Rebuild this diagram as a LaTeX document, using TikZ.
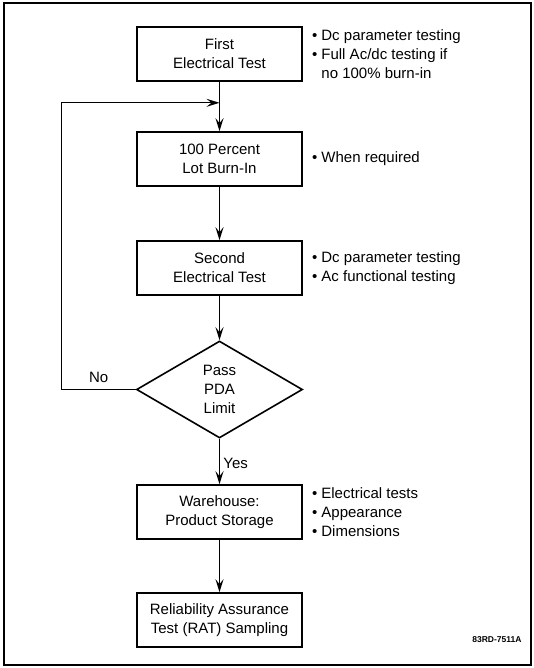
\documentclass[tikz,border=0pt]{standalone}
\usepackage{fontspec}
\setmainfont{Liberation Sans}
\usetikzlibrary{positioning, shapes.geometric, arrows.meta}

\begin{document}
\begin{tikzpicture}[x=1pt, y=-1pt,
		box/.style={draw, line width=1.6pt, minimum width=165pt, minimum height=54pt,
			align=center, inner sep=2pt, font=\fontsize{15}{19}\selectfont},
		decision/.style={draw, diamond, line width=1.6pt, minimum width=166pt, minimum height=97pt,
			aspect=1.7, inner sep=0pt, align=center, font=\fontsize{15}{19}\selectfont},
		note/.style={align=left, inner sep=0pt, font=\fontsize{15}{19}\selectfont},
		flow/.style={draw, line width=1.1pt, -{Stealth[length=13pt, width=8pt, inset=5pt]}}]
			% Frame
			\useasboundingbox (0,0) rectangle (534,668);
			\draw[line width=1.2pt] (4,3) rectangle (531,665);
			% Nodes for the test flow
			\node[box] (first) at (219.5,54) {First\\Electrical Test};
			\node[box, below=49.4pt of first] (burnin) {100 Percent\\Lot Burn-In};
			\node[box, below=53.4pt of burnin] (second) {Second\\Electrical Test};
			\node[decision, below=44.4pt of second] (pda) {Pass\\PDA\\Limit};
			\node[box, below=45.4pt of pda] (store) {Warehouse:\\Product Storage};
			\node[box, below=52.4pt of store] (rat) {Reliability Assurance\\Test (RAT) Sampling};
			% Arrows for the test flow
			\draw[flow] (first) -- (burnin);
			\draw[flow] (burnin) -- (second);
			\draw[flow] (second) -- (pda);
			\draw[flow] (pda) -- node[right, pos=0.55, font=\fontsize{15}{19}\selectfont] {Yes} (store);
			\draw[flow] (store) -- (rat);
			% Loop back when the limit is not passed
			\coordinate[below=21pt of first] (merge);
			\coordinate[left=74pt of pda] (back);
			\draw[flow] (pda) -- node[above, inner sep=6pt, font=\fontsize{15}{19}\selectfont] {No} (back) |- (merge);
			% Notes beside the boxes
			\node[note, right=9pt of first] (firstnote) {\textbullet\ Dc parameter testing\\\textbullet\ Full Ac/dc testing if\\\phantom{\textbullet\ }no 100\% burn-in};
			\node[note, right=9pt of burnin] (burninnote) {\textbullet\ When required};
			\node[note, right=9pt of second] (secondnote) {\textbullet\ Dc parameter testing\\\textbullet\ Ac functional testing};
			\node[note, right=9pt of store] (storenote) {\textbullet\ Electrical tests\\\textbullet\ Appearance\\\textbullet\ Dimensions};
			% Drawing number
			\node[anchor=east, font=\bfseries\fontsize{8.5}{10}\selectfont] (drawno) at (525,640) {83RD-7511A};
		\end{tikzpicture}
\end{document}
